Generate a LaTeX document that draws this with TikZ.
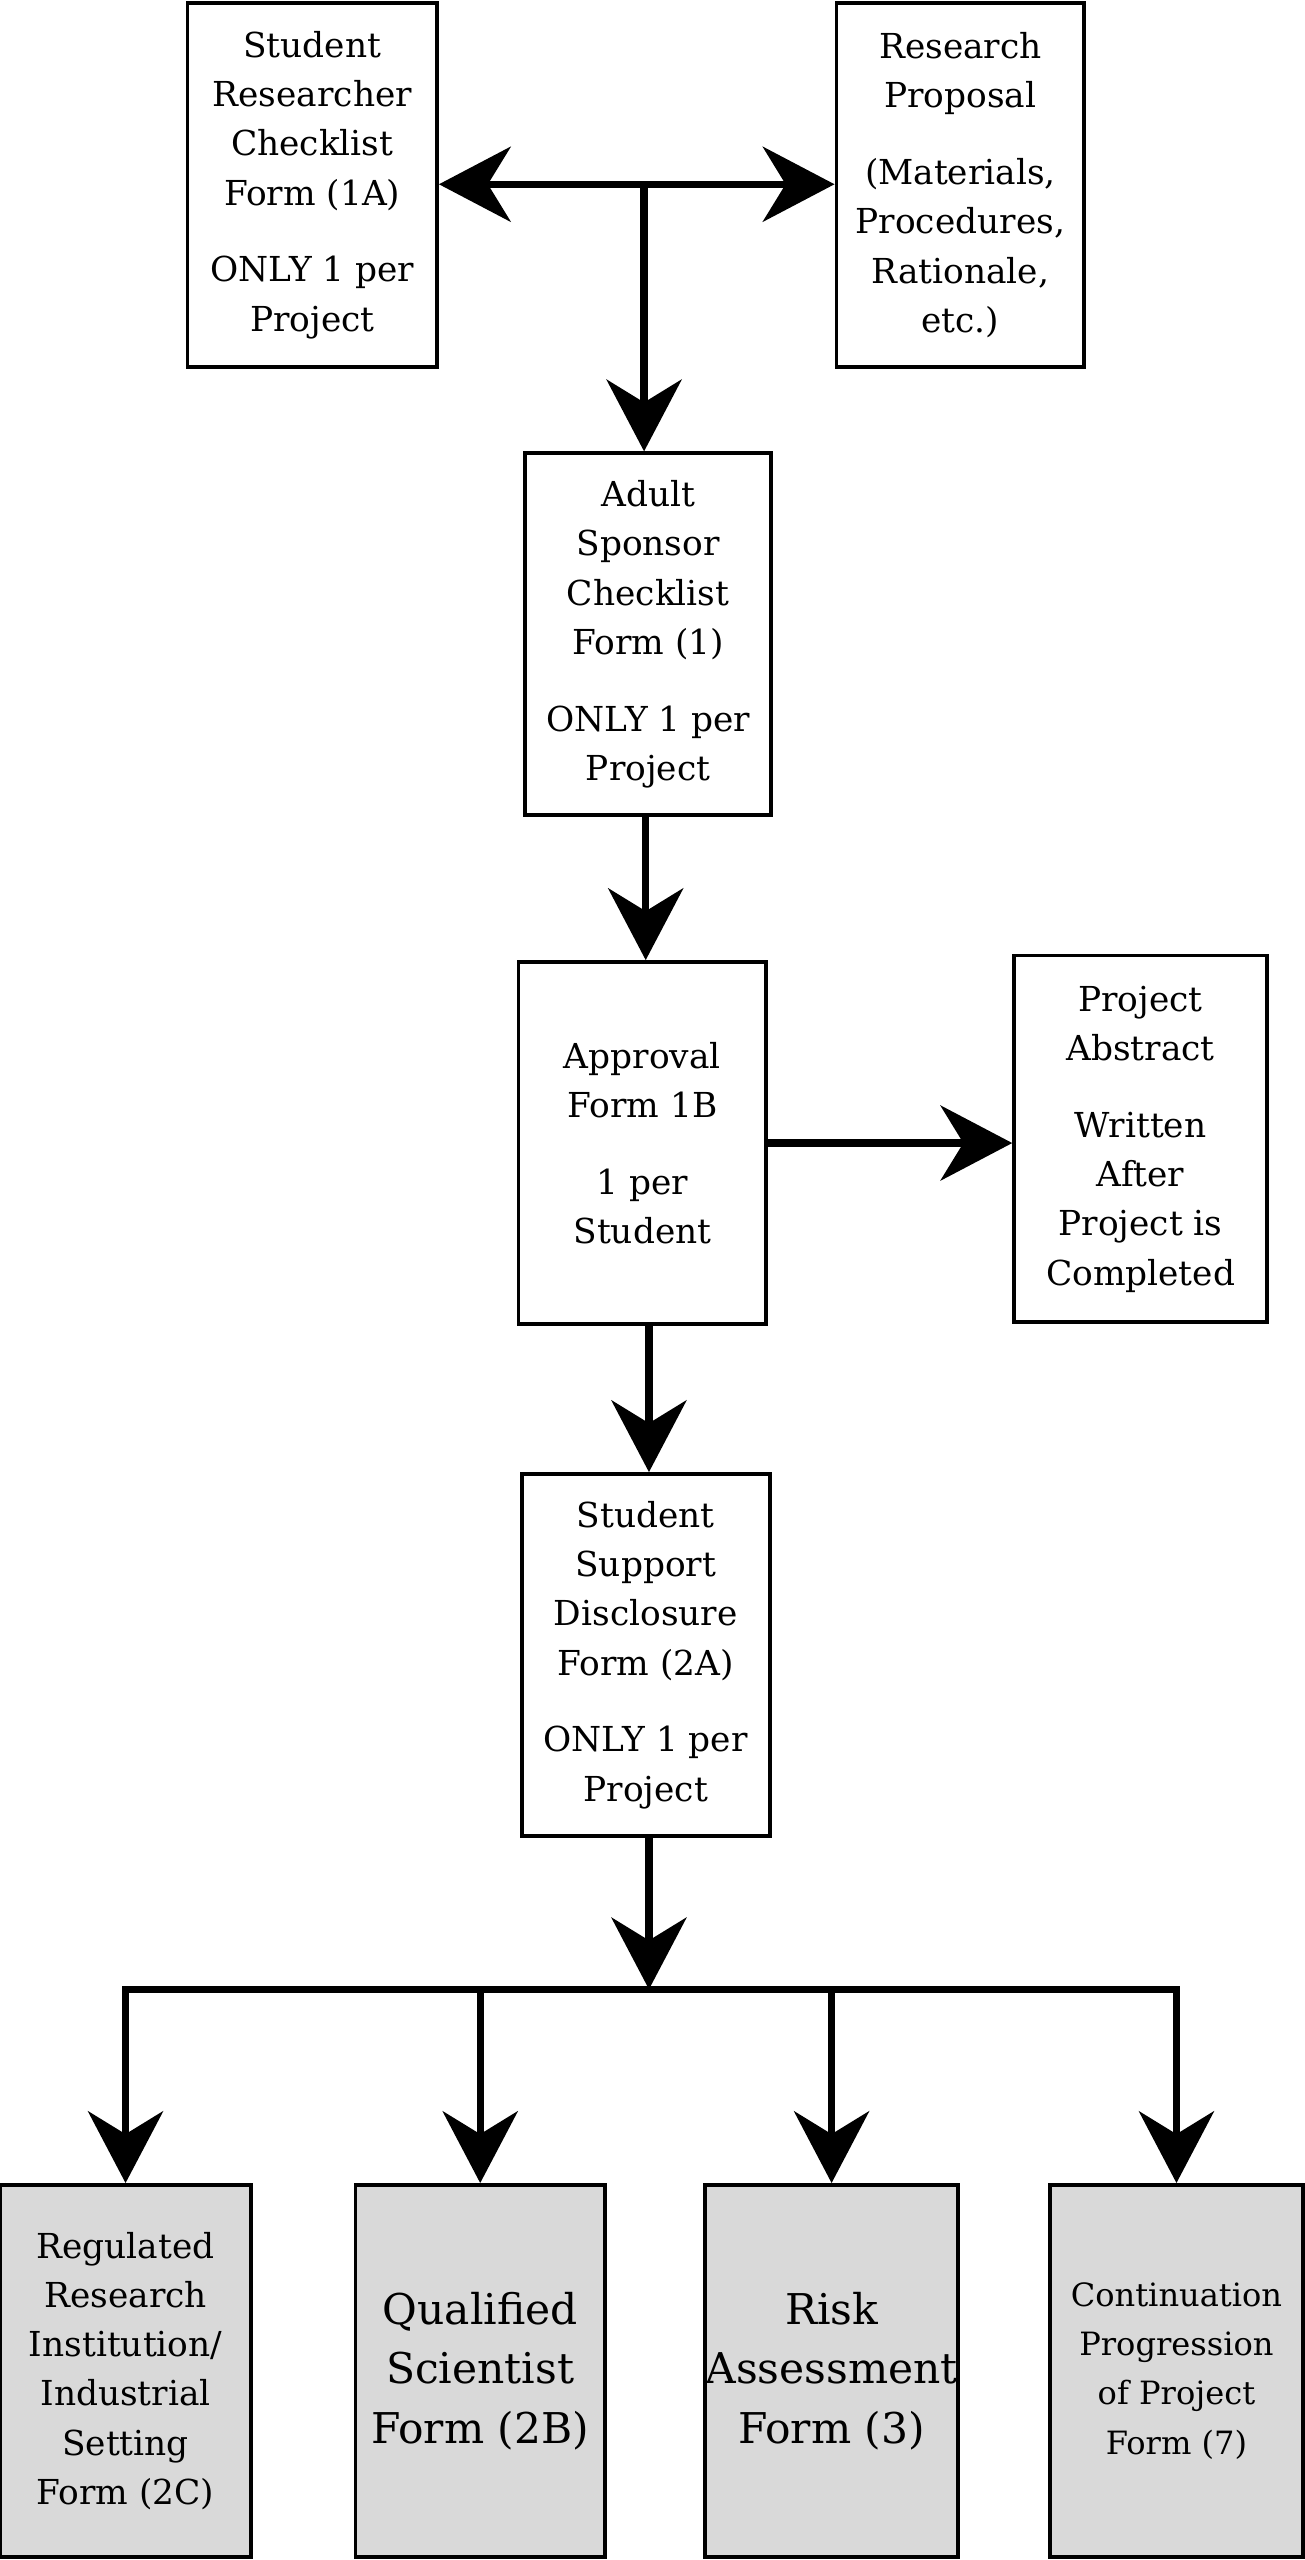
\documentclass[tikz,border=0pt]{standalone}
\usepackage{fontspec}
\setmainfont{DejaVu Serif}
\usetikzlibrary{arrows.meta}
\begin{document}
\begin{tikzpicture}[x=0.05cm,y=-0.05cm,
  box/.style={draw,line width=0.12cm,inner sep=0pt,align=center,font=\fontsize{30}{43}\selectfont},
  gbox/.style={box,fill=black!15},
  arr/.style={line width=0.22cm,-{Stealth[length=2.2cm,width=2.3cm,inset=0.7cm]}},
  ln/.style={line width=0.22cm}]
\useasboundingbox (0,0) rectangle (800,1570);
\node[box,minimum width=153*0.05cm,minimum height=223*0.05cm] (a) at (191.5,113.5) {Student\\Researcher\\Checklist\\Form (1A)\\[0.8em]ONLY 1 per\\Project};
\node[box,minimum width=152*0.05cm,minimum height=223*0.05cm] (p) at (589,113.5) {Research\\Proposal\\[0.8em](Materials,\\Procedures,\\Rationale,\\etc.)};
\node[box,minimum width=151*0.05cm,minimum height=222*0.05cm] (s) at (397.5,389) {Adult\\Sponsor\\Checklist\\Form (1)\\[0.8em]ONLY 1 per\\Project};
\node[box,minimum width=152*0.05cm,minimum height=222*0.05cm] (b) at (394,701) {Approval\\Form 1B\\[0.8em]1 per\\Student};
\node[box,minimum width=155*0.05cm,minimum height=225*0.05cm] (ab) at (699.5,698.5) {Project\\Abstract\\[0.8em]Written\\After\\Project is\\Completed};
\node[box,minimum width=152*0.05cm,minimum height=222*0.05cm] (d) at (396,1015) {Student\\Support\\Disclosure\\Form (2A)\\[0.8em]ONLY 1 per\\Project};
\node[gbox,minimum width=154*0.05cm,minimum height=228*0.05cm] (c1) at (77,1454) {Regulated\\Research\\Institution/\\Industrial\\Setting\\Form (2C)};
\node[gbox,minimum width=153*0.05cm,minimum height=228*0.05cm,font=\fontsize{37}{52}\selectfont] (c2) at (294.5,1454) {Qualified\\Scientist\\Form (2B)};
\node[gbox,minimum width=152*0.05cm,minimum height=228*0.05cm,font=\fontsize{37}{52}\selectfont] (c3) at (510,1454) {Risk\\Assessment\\Form (3)};
\node[gbox,minimum width=155*0.05cm,minimum height=228*0.05cm,font=\fontsize{28}{43}\selectfont] (c4) at (721.5,1454) {Continuation\\Progression\\of Project\\Form (7)};
\coordinate (j) at (395,113);
\coordinate (bar) at (398,1220);
\draw[ln,{Stealth[length=2.2cm,width=2.3cm,inset=0.7cm]}-{Stealth[length=2.2cm,width=2.3cm,inset=0.7cm]}] (a.east|-j) -- (p.west|-j);
\draw[arr] (j) -- (j|-s.north);
\draw[arr] (s.south-|396,0) -- (b.north-|396,0);
\draw[arr] (b.east|-0,701) -- (ab.west|-0,701);
\draw[arr] (b.south-|398,0) -- (d.north-|398,0);
\draw[arr] (d.south-|398,0) -- (bar);
\draw[ln] (77,1220) -- (720,1220);
\foreach \n in {c1,c2,c3,c4} \draw[arr] (\n.north|-0,1218) -- (\n.north);
\end{tikzpicture}
\end{document}
